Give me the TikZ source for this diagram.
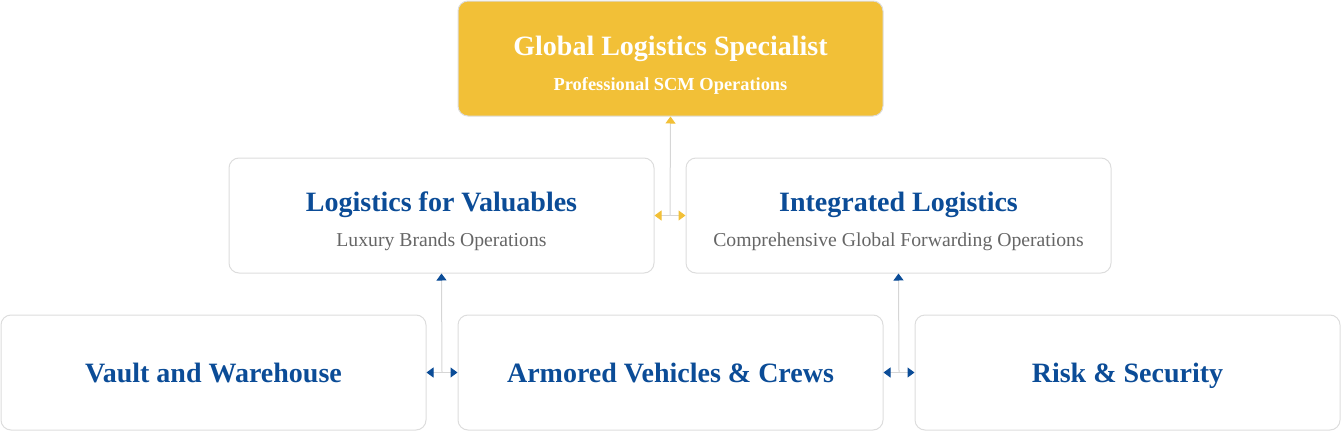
\documentclass[tikz,border=0pt]{standalone}
\usepackage{fontspec}
\setmainfont{Liberation Serif}
\usetikzlibrary{arrows.meta,calc}
\definecolor{gold}{HTML}{F2C037}
\definecolor{navy}{HTML}{0B4C97}
\definecolor{sub}{HTML}{666666}
\definecolor{edge}{HTML}{DDDDDD}
\definecolor{wire}{HTML}{D6D6D6}
\tikzset{
  card/.style={draw=edge, line width=1pt, rounded corners=10pt, minimum width=425pt, minimum height=115pt, inner sep=0pt, fill=white},
  goldcard/.style={card, fill=gold},
  ttl/.style={font=\bfseries\fontsize{28}{32}\selectfont, text=navy, inner sep=0pt, anchor=base},
  subt/.style={font=\fontsize{19.7}{23}\selectfont, text=sub, inner sep=0pt, anchor=base},
  wired/.style={draw=wire, line width=1pt},
  gtip/.tip={Triangle[width=10pt,length=7pt,color=gold]},
  btip/.tip={Triangle[width=10pt,length=7pt,color=navy]},
}
\begin{document}
\begin{tikzpicture}[x=1pt,y=-1pt]
\useasboundingbox (0,0) rectangle (1341,431);
% boxes
\node[goldcard] (top) at (670.5,58.5) {};
\node[card] (ml) at (441.5,215.5) {};
\node[card] (mr) at (898.5,215.5) {};
\node[card] (bl) at (213.5,372.5) {};
\node[card] (bm) at (670.5,372.5) {};
\node[card] (br) at (1127.5,372.5) {};
% texts
\node[ttl, text=white] (t1) at (670.5,55) {Global Logistics Specialist};
\node[subt, text=white, font=\bfseries\fontsize{18.4}{22}\selectfont] (s1) at (670.5,90) {Professional SCM Operations};
\node[ttl] (t2) at (441.5,211.5) {Logistics for Valuables};
\node[subt] (s2) at (441.5,246.5) {Luxury Brands Operations};
\node[ttl] (t3) at (898.5,211.5) {Integrated Logistics};
\node[subt] (s3) at (898.5,246.5) {Comprehensive Global Forwarding Operations};
\node[ttl] (t4) at (213.5,382.5) {Vault and Warehouse};
\node[ttl] (t5) at (670.5,382.5) {Armored Vehicles \& Crews};
\node[ttl] (t6) at (1127.5,382.5) {Risk \& Security};
% connectors
\coordinate (j1) at ($(ml.east)!0.5!(mr.west)$);
\coordinate (j2) at ($(bl.east)!0.5!(bm.west)$);
\coordinate (j3) at ($(bm.east)!0.5!(br.west)$);
\draw[wired, -gtip] (j1) -- (top.south);
\draw[wired, gtip-gtip] (ml.east) -- (mr.west);
\draw[wired, -btip] (j2) -- (ml.south);
\draw[wired, btip-btip] (bl.east) -- (bm.west);
\draw[wired, -btip] (j3) -- (mr.south);
\draw[wired, btip-btip] (bm.east) -- (br.west);
\end{tikzpicture}
\end{document}
